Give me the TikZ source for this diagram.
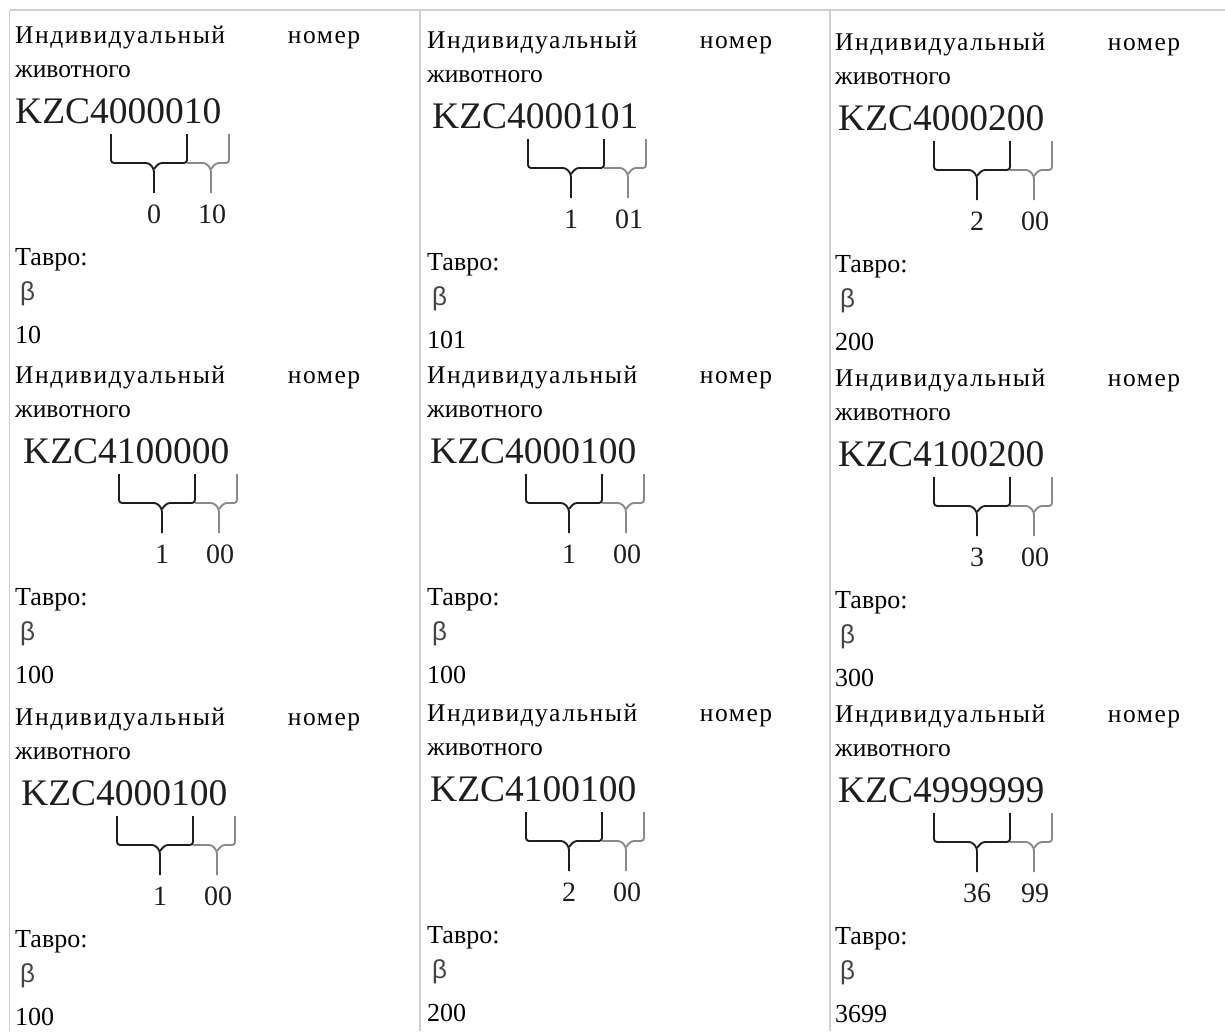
\documentclass[tikz,border=0pt]{standalone}
\usepackage{fontspec}
\setmainfont{Liberation Serif}
\newfontfamily\spacedfont[LetterSpace=6]{Liberation Serif}
\newfontfamily\betafont{Liberation Sans}

\definecolor{gridgray}{HTML}{CFCFCF}
\definecolor{codegray}{HTML}{1E1E1E}
\definecolor{lightbrace}{HTML}{8A8A8A}
\definecolor{betagray}{HTML}{444444}

\tikzset{
	grid/.style={draw=gridgray, line width=1.8pt},
	txt/.style={anchor=base west, inner sep=0pt, font=\fontsize{25.5}{30}\selectfont},
	brandtxt/.style={anchor=base west, inner sep=0pt, font=\fontsize{26}{30}\selectfont},
	code/.style={anchor=base west, inner sep=0pt, text=codegray, font=\fontsize{37.5}{40}\selectfont},
	part/.style={anchor=base, inner sep=0pt, text=codegray, font=\fontsize{28}{30}\selectfont},
	greek/.style={anchor=base west, inner sep=0pt, text=betagray, font=\betafont\fontsize{26}{28}\selectfont},
	brace/.style={draw=codegray, line width=1.9pt, rounded corners=3pt},
	brace light/.style={brace, draw=lightbrace},
}

\begin{document}
\begin{tikzpicture}[x=1pt, y=-1pt]
		\useasboundingbox (0,0) rectangle (1225,1031);
		
		% Table lines
		\draw[grid] (9.5,10) -- (1225,10);
		\foreach \x in {9.5,420,830}
		\draw[grid] (\x,10) -- (\x,1031);
		
		% Cells
		\foreach \n/\L/\B/\k/\code/\pa/\pb/\tav in {
			a/15/43/0/4000010/0/10/10,
			b/15/383/8/4100000/1/00/100,
			c/15/725/6/4000100/1/00/100,
			d/427/48/5/4000101/1/01/101,
			e/427/383/3/4000100/1/00/100,
			f/427/721/3/4100100/2/00/200,
			g/835/50/3/4000200/2/00/200,
			h/835/386/3/4100200/3/00/300,
			i/835/722/3/4999999/36/99/3699}
		{
			\pgfmathsetmacro{\K}{\L+\k}
			\node[txt] (head-\n) at (\L,\B) {\makebox[345pt][s]{\spacedfont Индивидуальный номер}};
			\node[txt] (animal-\n) at (\L,\B+34) {животного};
			\node[code] (code-\n) at (\K,\B+80) {KZC\code};
			% Braces
			\draw[brace] (\K+96,\B+91) -- (\K+96,\B+120) -- (\K+134,\B+120) -- (\K+139,\B+126) -- (\K+139,\B+150);
			\draw[brace] (\K+139,\B+126) -- (\K+144,\B+120) -- (\K+172,\B+120) -- (\K+172,\B+91);
			\draw[brace light] (\K+172,\B+120) -- (\K+191,\B+120) -- (\K+196,\B+126) -- (\K+196,\B+150);
			\draw[brace light] (\K+196,\B+126) -- (\K+201,\B+120) -- (\K+214,\B+120) -- (\K+214,\B+91);
			\node[part] (lo-\n) at (\K+139,\B+180) {\pa};
			\node[part] (hi-\n) at (\K+197,\B+180) {\pb};
			% Brand
			\node[brandtxt] (brand-\n) at (\L,\B+222) {Тавро:};
			\node[greek] (beta-\n) at (\L+5,\B+257) {β};
			\node[brandtxt] (tavro-\n) at (\L,\B+300) {\tav};
		}
\end{tikzpicture}
\end{document}
